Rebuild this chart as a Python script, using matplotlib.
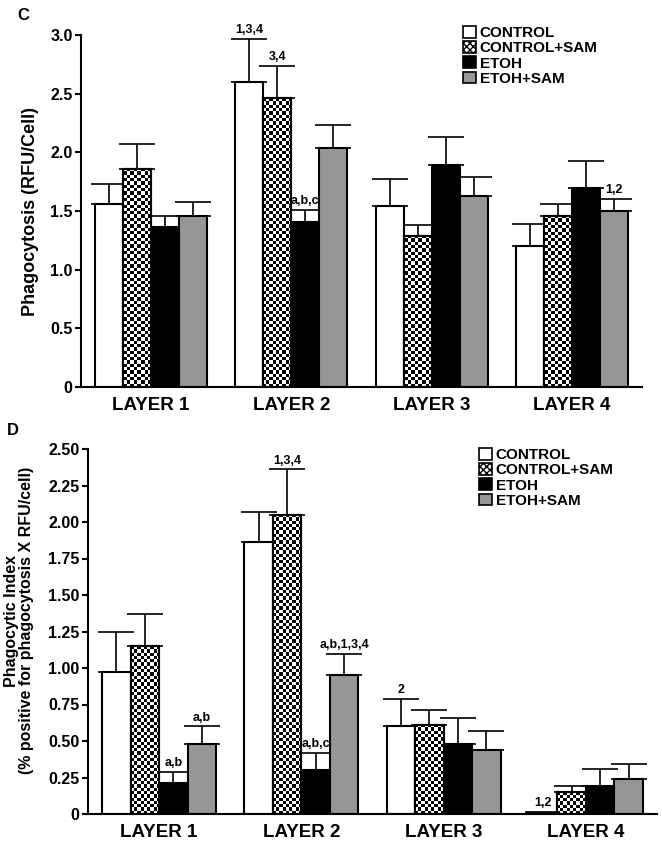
import numpy as np
import matplotlib
matplotlib.use('Agg')
import matplotlib.pyplot as plt
from matplotlib.patches import Patch

plt.rcParams['font.family'] = ['Liberation Sans', 'DejaVu Sans']
plt.rcParams['font.weight'] = 'bold'
plt.rcParams['hatch.linewidth'] = 1.0

# Datos
layers = ['LAYER 1', 'LAYER 2', 'LAYER 3', 'LAYER 4']
groups = ['CONTROL', 'CONTROL+SAM', 'ETOH', 'ETOH+SAM']

# Panel C: fagocitosis (RFU/Cell)
control_c = [1.56, 2.60, 1.54, 1.20]
control_c_err = [0.17, 0.37, 0.23, 0.19]
csam_c = [1.86, 2.46, 1.29, 1.46]
csam_c_err = [0.21, 0.28, 0.09, 0.10]
etoh_c = [1.36, 1.41, 1.89, 1.70]
etoh_c_err = [0.10, 0.10, 0.24, 0.23]
esam_c = [1.46, 2.04, 1.63, 1.50]
esam_c_err = [0.12, 0.19, 0.16, 0.10]
notes_c = [(0, 1, '1,3,4'), (1, 1, '3,4'), (2, 1, 'a,b,c'), (3, 3, '1,2')]

# Panel D: indice fagocitico
control_d = [0.97, 1.86, 0.60, 0.01]
control_d_err = [0.28, 0.21, 0.19, 0.006]
csam_d = [1.15, 2.05, 0.61, 0.15]
csam_d_err = [0.22, 0.31, 0.10, 0.045]
etoh_d = [0.21, 0.30, 0.48, 0.19]
etoh_d_err = [0.08, 0.12, 0.18, 0.115]
esam_d = [0.48, 0.95, 0.44, 0.24]
esam_d_err = [0.12, 0.145, 0.13, 0.10]
notes_d = [(2, 0, 'a,b'), (3, 0, 'a,b'), (1, 1, '1,3,4'), (2, 1, 'a,b,c'),
           (3, 1, 'a,b,1,3,4'), (0, 2, '2'), (0, 3, '1,2')]

colors = ['white', 'white', 'black', '#969696']
width = 0.2


def checker_fill(ax, bars):
    # Rellenar las barras con un patron de tablero de ajedrez
    fig = ax.figure
    fig.canvas.draw()
    for rect in bars:
        x0, y0 = rect.get_x(), rect.get_y()
        w, h = rect.get_width(), rect.get_height()
        p0 = ax.transData.transform((x0, y0))
        p1 = ax.transData.transform((x0 + w, y0 + h))
        nx = max(1, int(round((p1[0] - p0[0]) / 3.3)))
        ny = max(1, int(round((p1[1] - p0[1]) / 3.3)))
        arr = np.add.outer(np.arange(ny), np.arange(nx)) % 2
        ax.imshow(arr, cmap='gray', extent=[x0, x0 + w, y0, y0 + h], origin='lower',
                  interpolation='nearest', aspect='auto', clip_path=rect, zorder=1.5)


def draw_panel(ax, series, errors, notes, ymax, yticks, ticklabels):
    x = np.arange(len(layers))
    all_bars = []
    for i, (vals, errs) in enumerate(zip(series, errors)):
        pos = x + (i - 1.5) * width
        bars = ax.bar(pos, vals, width, color=colors[i], edgecolor='black', linewidth=1.5,
                      zorder=1)
        ax.errorbar(pos, vals, yerr=[np.zeros(len(vals)), errs], fmt='none', ecolor='black',
                    elinewidth=1.2, capsize=13, capthick=1.2, zorder=0.5)
        all_bars.append((pos, vals, errs, bars))
    ax.set_xlim(-0.5, 3.5)
    ax.set_ylim(0, ymax)
    checker_fill(ax, all_bars[1][3])
    # contorno encima del patron
    ax.bar(all_bars[1][0], all_bars[1][1], width, fill=False, edgecolor='black',
           linewidth=1.5, zorder=2)
    ax.set_xlim(-0.5, 3.5)
    ax.set_ylim(0, ymax)
    for g, l, txt in notes:
        pos, vals, errs, _ = all_bars[g]
        ax.annotate(txt, (pos[l], vals[l] + errs[l]), xytext=(0, 2), textcoords='offset points',
                    ha='center', va='bottom', fontsize=9, fontweight='bold')
    ax.set_xticks(x)
    ax.set_xticklabels(layers, fontsize=13.5, fontweight='bold')
    ax.set_yticks(yticks)
    ax.set_yticklabels(ticklabels, fontsize=11.5, fontweight='bold')
    ax.tick_params(axis='x', length=0, pad=7)
    ax.tick_params(axis='y', length=4, width=1.5, pad=2)
    ax.spines['top'].set_visible(False)
    ax.spines['right'].set_visible(False)
    ax.spines['left'].set_linewidth(1.5)
    ax.spines['bottom'].set_linewidth(1.5)


def legend_handles():
    return [Patch(facecolor='white', edgecolor='black', linewidth=1.2),
            Patch(facecolor='white', edgecolor='black', hatch='xxxxx', linewidth=1.2),
            Patch(facecolor='black', edgecolor='black', linewidth=1.2),
            Patch(facecolor='#969696', edgecolor='black', linewidth=1.2)]


legend_kw = dict(bbox_transform=None, frameon=False, fontsize=11, handlelength=0.85,
                 handleheight=0.8, handletextpad=0.25, labelspacing=0.07, borderpad=0,
                 borderaxespad=0, loc='upper left')

fig = plt.figure(figsize=(6.62, 8.43), dpi=100)
legend_kw['bbox_transform'] = fig.transFigure

ax1 = fig.add_axes([81 / 662, 1 - 387 / 843, 561 / 662, 352 / 843])
draw_panel(ax1, [control_c, csam_c, etoh_c, esam_c],
           [control_c_err, csam_c_err, etoh_c_err, esam_c_err], notes_c,
           3.0, [0, 0.5, 1.0, 1.5, 2.0, 2.5, 3.0],
           ['0', '0.5', '1.0', '1.5', '2.0', '2.5', '3.0'])
ax1.set_ylabel('Phagocytosis (RFU/Cell)', fontsize=13, fontweight='bold')
ax1.yaxis.set_label_coords((39 - 81) / 561, 0.5)
ax1.legend(legend_handles(), groups, bbox_to_anchor=(463 / 662, 1 - 26 / 843), **legend_kw)

ax2 = fig.add_axes([88 / 662, 1 - 814 / 843, 569 / 662, 365 / 843])
draw_panel(ax2, [control_d, csam_d, etoh_d, esam_d],
           [control_d_err, csam_d_err, etoh_d_err, esam_d_err], notes_d,
           2.5, [0, 0.25, 0.5, 0.75, 1.0, 1.25, 1.5, 1.75, 2.0, 2.25, 2.5],
           ['0', '0.25', '0.50', '0.75', '1.00', '1.25', '1.50', '1.75', '2.00', '2.25', '2.50'])
ax2.set_ylabel('Phagocytic Index\n(% positive for phagocytosis X RFU/cell)', fontsize=11.5,
               fontweight='bold', linespacing=1.0)
ax2.yaxis.set_label_coords((34 - 88) / 569, 0.53)
ax2.legend(legend_handles(), groups, bbox_to_anchor=(479 / 662, 1 - 448 / 843), **legend_kw)

fig.text(17 / 662, 1 - 8 / 843, 'C', fontsize=12, fontweight='bold', va='top')
fig.text(7 / 662, 1 - 423 / 843, 'D', fontsize=12, fontweight='bold', va='top')

fig.savefig('out.png', dpi=100)
